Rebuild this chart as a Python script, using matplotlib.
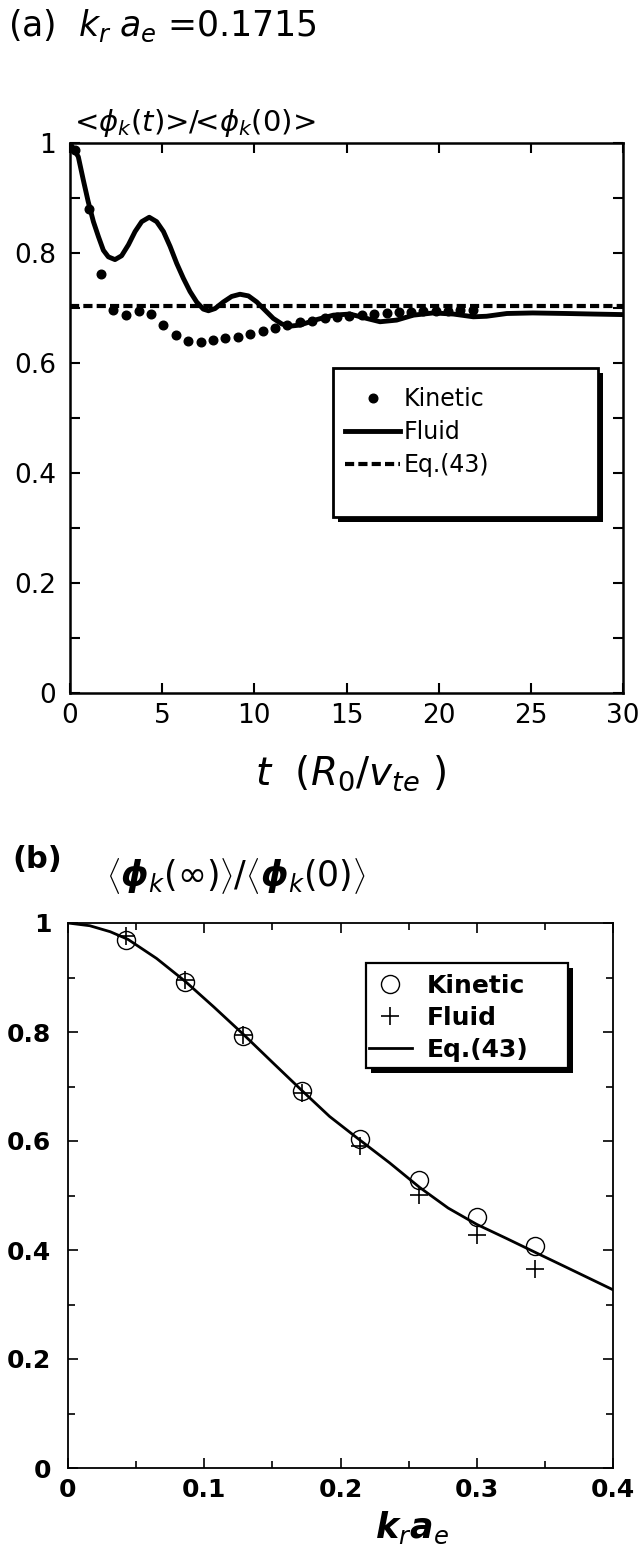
import matplotlib
matplotlib.use("Agg")
import matplotlib.pyplot as plt
from matplotlib.ticker import MultipleLocator
from matplotlib.patches import Rectangle

plt.rcParams['font.family'] = ['DejaVu Sans']
plt.rcParams['mathtext.fontset'] = 'custom'
plt.rcParams['mathtext.rm'] = 'DejaVu Sans'
plt.rcParams['mathtext.sf'] = 'DejaVu Sans'
plt.rcParams['mathtext.it'] = 'DejaVu Sans:italic'
plt.rcParams['mathtext.bf'] = 'DejaVu Sans:italic:bold'

# ---------------- Panel (a) data ----------------
fluid_t = [0.0, 0.45, 0.72, 0.99, 1.27, 1.54, 1.81, 2.08, 2.44, 2.80, 3.17, 3.53, 3.89, 4.30,
           4.70, 5.07, 5.43, 5.79, 6.15, 6.51, 6.87, 7.23, 7.51, 7.87, 8.32, 8.77, 9.22, 9.68,
           10.13, 10.58, 11.03, 11.49, 11.94, 12.48, 13.39, 14.29, 15.19, 16.10, 16.82, 17.72,
           18.63, 19.71, 20.80, 21.88, 22.60, 23.70, 25.10, 26.95, 28.40, 30.0]
fluid_y = [1.000, 0.975, 0.933, 0.893, 0.857, 0.830, 0.805, 0.793, 0.788, 0.795, 0.815, 0.839,
           0.857, 0.865, 0.857, 0.839, 0.812, 0.781, 0.754, 0.730, 0.711, 0.698, 0.695, 0.699,
           0.711, 0.721, 0.725, 0.722, 0.711, 0.696, 0.681, 0.671, 0.667, 0.669, 0.679, 0.687,
           0.689, 0.681, 0.675, 0.678, 0.687, 0.691, 0.689, 0.684, 0.685, 0.690, 0.691, 0.690,
           0.689, 0.688]

kin_t = [0.27, 1.05, 1.68, 2.35, 3.02, 3.72, 4.37, 5.07, 5.73, 6.42, 7.09, 7.76, 8.43, 9.12,
         9.78, 10.45, 11.12, 11.79, 12.46, 13.15, 13.84, 14.50, 15.16, 15.83, 16.50, 17.17,
         17.84, 18.50, 19.17, 19.84, 20.50, 21.17, 21.84]
kin_y = [0.987, 0.880, 0.762, 0.696, 0.687, 0.695, 0.690, 0.670, 0.651, 0.640, 0.639, 0.641,
         0.645, 0.648, 0.653, 0.658, 0.664, 0.669, 0.674, 0.677, 0.681, 0.684, 0.686, 0.688,
         0.690, 0.691, 0.692, 0.693, 0.694, 0.695, 0.695, 0.696, 0.696]

eq43_level = 0.704
t_range = [0.0, 30.0]

# ---------------- Panel (b) data ----------------
kb = [0.0429, 0.0858, 0.1287, 0.1715, 0.2144, 0.2573, 0.3001, 0.3430]
kinetic_b = [0.968, 0.891, 0.792, 0.692, 0.603, 0.528, 0.461, 0.408]
fluid_b = [0.976, 0.895, 0.795, 0.688, 0.590, 0.501, 0.427, 0.365]
eq_x = [0.0, 0.016, 0.031, 0.044, 0.065, 0.086, 0.107, 0.129, 0.151, 0.1715, 0.192, 0.212,
        0.236, 0.258, 0.279, 0.300, 0.322, 0.3435, 0.366, 0.400]
eq_y = [1.000, 0.995, 0.984, 0.970, 0.935, 0.893, 0.846, 0.795, 0.742, 0.693, 0.645, 0.606,
        0.560, 0.515, 0.477, 0.447, 0.421, 0.395, 0.368, 0.327]

W, H = 644, 1555
fig = plt.figure(figsize=(W / 100, H / 100), dpi=100)


def fx(px):
    return px / W


def fy(py):
    return 1 - py / H


def ptext(x, y, s, size, **kw):
    kw.setdefault('va', 'baseline')
    kw.setdefault('ha', 'left')
    return fig.text(fx(x), fy(y), s, fontsize=size, **kw)


def frame_box(ax, x0, y0, x1, y1, lw, sh):
    shadow = Rectangle((fx(x0 + sh), fy(y1 + sh)), fx(x1 - x0), (y1 - y0) / H,
                       transform=fig.transFigure, facecolor='black',
                       edgecolor='none', zorder=3.9)
    box = Rectangle((fx(x0), fy(y1)), fx(x1 - x0), (y1 - y0) / H,
                    transform=fig.transFigure, facecolor='white',
                    edgecolor='black', lw=lw, zorder=4)
    ax.add_patch(shadow)
    ax.add_patch(box)


# ---------------- Panel (a) ----------------
axa = fig.add_axes([fx(70), fy(693), (623 - 70) / W, 550 / H])
l_kin, = axa.plot(kin_t, kin_y, 'o', color='black', ms=6.2, label='Kinetic')
l_fl, = axa.plot(fluid_t, fluid_y, '-', color='black', lw=3.5, label='Fluid')
l_eq, = axa.plot(t_range, [eq43_level, eq43_level], color='black', lw=3,
                 dashes=(2.2, 1.0), label='Eq.(43)')
axa.set_xlim(0, 30)
axa.set_ylim(0, 1)
axa.set_xticks([0, 5, 10, 15, 20, 25, 30])
axa.set_xticklabels(['0', '5', '10', '15', '20', '25', '30'])
axa.set_yticks([0, 0.2, 0.4, 0.6, 0.8, 1.0])
axa.set_yticklabels(['0', '0.2', '0.4', '0.6', '0.8', '1'])
axa.yaxis.set_minor_locator(MultipleLocator(0.1))
for sp in axa.spines.values():
    sp.set_linewidth(1.8)
axa.tick_params(which='both', direction='in', top=True, right=True, width=1.5,
                length=7, labelsize=19)
axa.tick_params(axis='x', pad=7)
axa.tick_params(axis='y', pad=10)

frame_box(axa, 333, 368, 598, 517, 2.0, 5)
lega = axa.legend(handles=[l_kin, l_fl, l_eq], loc='upper left',
                  bbox_to_anchor=(fx(345), fy(387)), bbox_transform=fig.transFigure,
                  fontsize=17, frameon=False, handlelength=2.35,
                  handletextpad=0.15, labelspacing=0.38, borderpad=0,
                  borderaxespad=0)
lega.set_zorder(5)

ptext(8, 36, r'(a)  $k_{r}\;a_{e}$ =0.1715', 25)
ptext(74, 131, r'<$\phi_k$($t$)>/<$\phi_k$(0)>', 21)
ptext(351, 785, r'$t$  ($R_{0}$/$v_{te}$ )', 28, ha='center')

# ---------------- Panel (b) ----------------
axb = fig.add_axes([fx(68), fy(1468), 545 / W, 545 / H])
l_eqb, = axb.plot(eq_x, eq_y, '-', color='black', lw=2, label='Eq.(43)')
l_kb, = axb.plot(kb, kinetic_b, 'o', mfc='none', mec='black', ms=13, mew=1.0,
                 label='Kinetic')
l_fb, = axb.plot(kb, fluid_b, '+', color='black', ms=13, mew=1.2, label='Fluid')
axb.set_xlim(0, 0.4)
axb.set_ylim(0, 1)
axb.set_xticks([0, 0.1, 0.2, 0.3, 0.4])
axb.set_xticklabels(['0', '0.1', '0.2', '0.3', '0.4'])
axb.xaxis.set_minor_locator(MultipleLocator(0.05))
axb.set_yticks([0, 0.2, 0.4, 0.6, 0.8, 1.0])
axb.set_yticklabels(['0', '0.2', '0.4', '0.6', '0.8', '1'])
axb.yaxis.set_minor_locator(MultipleLocator(0.1))
for sp in axb.spines.values():
    sp.set_linewidth(1.3)
axb.tick_params(which='both', direction='in', top=True, right=True, width=1.2,
                labelsize=18)
axb.tick_params(which='major', length=7)
axb.tick_params(which='minor', length=5)
axb.tick_params(axis='x', pad=7)
axb.tick_params(axis='y', pad=12)
for lab in axb.get_xticklabels() + axb.get_yticklabels():
    lab.set_fontweight('bold')

frame_box(axb, 366, 963, 568, 1068, 1.6, 5)
legb = axb.legend(handles=[l_kb, l_fb, l_eqb], loc='upper left',
                  bbox_to_anchor=(fx(369), fy(974)), bbox_transform=fig.transFigure,
                  frameon=False, handlelength=1.7, handletextpad=0.6,
                  labelspacing=0.32, borderpad=0, borderaxespad=0,
                  prop={'weight': 'bold', 'size': 18})
legb.set_zorder(5)

ptext(12, 868, '(b)', 22, fontweight='bold')
ptext(106, 886,
      r'$\left\langle\mathbf{\phi}_{k}(\infty)\right\rangle/\left\langle\mathbf{\phi}_{k}(0)\right\rangle$',
      25)
ptext(412, 1538, r'$\mathbf{k}_{r}\mathbf{a}_{e}$', 25, ha='center')

fig.savefig('out.png', dpi=100)
